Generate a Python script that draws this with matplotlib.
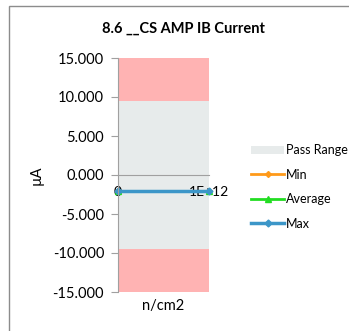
import matplotlib.pyplot as plt
from matplotlib.patches import Rectangle, Patch
from matplotlib.lines import Line2D

plt.rcParams['font.family'] = ['Lato', 'DejaVu Sans']

# data
categories = ['0', '1E+12']
fail_low = [-15.0, -15.0]
pass_low = [-9.5, -9.5]
pass_high = [9.5, 9.5]
fail_high = [15.0, 15.0]
min_vals = [-2.1, -2.1]
avg_vals = [-2.05, -2.05]
max_vals = [-2.0, -2.0]

fig = plt.figure(figsize=(3.49, 3.31), dpi=100)
# chart border
fig.patches.append(Rectangle((9 / 349, -0.05), 1.2, 1 - 6 / 331 + 0.05,
                             transform=fig.transFigure, fill=False,
                             edgecolor='#8c8c8c', lw=1.0))

ax = fig.add_axes([118 / 349, 1 - 292 / 331, 91 / 349, 234 / 331])
x = list(range(len(categories)))

ax.fill_between(x, fail_low, pass_low, color='#ffb3b3', lw=0)
ax.fill_between(x, pass_low, pass_high, color='#e7ebeb', lw=0)
ax.fill_between(x, pass_high, fail_high, color='#ffb3b3', lw=0)

ax.plot(x, min_vals, color='#ff9a1a', lw=2, marker='D', ms=3, clip_on=False)
ax.plot(x, avg_vals, color='#22dd22', lw=2, marker='^', ms=5, clip_on=False)
ax.plot(x, max_vals, color='#3c96c8', lw=2.5, marker='D', ms=3.5, clip_on=False)

ax.set_xlim(0, 1)
ax.set_ylim(-15, 15)
ax.set_yticks(range(-15, 16, 5))
ax.set_yticklabels(['%.3f' % v for v in range(-15, 16, 5)], fontsize=10.5)
ax.set_xticks(x)
ax.set_xticklabels(categories, fontsize=9)

for s in ['top', 'right']:
    ax.spines[s].set_visible(False)
ax.spines['left'].set_color('#a0a0a0')
ax.spines['bottom'].set_color('#a0a0a0')
ax.spines['bottom'].set_position(('data', 0))
ax.tick_params(axis='y', color='#a0a0a0', length=5, pad=5)
ax.tick_params(axis='x', color='#a0a0a0', length=0, pad=8)

ax.set_ylabel('µA', fontsize=10.5)
ax.yaxis.set_label_coords(-0.82, 0.5)
ax.text(0.5, -0.06, 'n/cm2', transform=ax.transAxes, ha='center', va='center', fontsize=10.5)
fig.text(183 / 349, 1 - 29 / 331, '8.6 __CS AMP IB Current', ha='center', va='center',
         fontsize=10.5, fontweight='bold')

handles = [Patch(facecolor='#e7ebeb', edgecolor='none'),
           Line2D([], [], color='#ff9a1a', lw=2, marker='D', ms=3),
           Line2D([], [], color='#22dd22', lw=2, marker='^', ms=5),
           Line2D([], [], color='#3c96c8', lw=2.5, marker='D', ms=3.5)]
fig.legend(handles, ['Pass Range', 'Min', 'Average', 'Max'], loc='upper left',
           bbox_to_anchor=(240 / 349, 1 - 133 / 331), frameon=False, fontsize=9,
           handlelength=2.6, labelspacing=1.0, handletextpad=0.2)

fig.savefig('out.png', dpi=100)
